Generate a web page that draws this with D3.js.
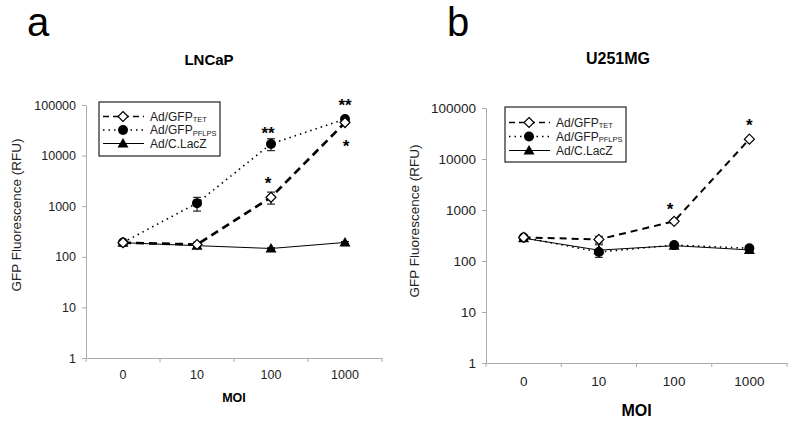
<!DOCTYPE html>
<html><head><meta charset="utf-8">
<script src="https://cdn.jsdelivr.net/npm/d3@7"></script>
<style>body{margin:0;background:#fff}svg{display:block;font-family:"Liberation Sans",Arial,sans-serif}</style>
</head><body>
<svg id="c" width="800" height="423"></svg>
<script>
const categories = ["0", "10", "100", "1000"];
const yTicks = [1, 10, 100, 1000, 10000, 100000];
const seriesNames = ["Ad/GFP", "Ad/GFP", "Ad/C.LacZ"];
const seriesSubs = ["TET", "PFLPS", ""];
// Panel a (LNCaP)
const aTET = [190, 175, 1500, 45000];
const aTETerr = [10, 20, 400, 3000];
const aPFLPS = [192, 1150, 17000, 53000];
const aPFLPSerr = [10, 350, 4500, 3000];
const aLacZ = [190, 166, 146, 192];
const aLacZerr = [8, 15, 5, 8];
// Panel b (U251MG)
const bTET = [290, 265, 600, 24500];
const bTETerr = [15, 40, 40, 1500];
const bPFLPS = [290, 150, 205, 178];
const bPFLPSerr = [15, 10, 10, 8];
const bLacZ = [280, 163, 200, 165];
const bLacZerr = [15, 45, 10, 8];

const svg = d3.select("#c");

function panel(o) {
  const g = svg.append("g");
  const x = d3.scaleBand().domain(categories).range([o.x0, o.x1]);
  const y = d3.scaleLog().domain([1, 100000]).range([o.y1, o.y0]);
  const ya = d3.axisLeft(y).tickValues(yTicks).tickFormat(d3.format("d")).tickSize(4).tickSizeOuter(0);
  const yg = g.append("g").attr("transform", `translate(${o.x0},0)`).call(ya);
  yg.selectAll("text").attr("font-size", o.tickFs).attr("fill", "#222").attr("dx", "-3");
  const xa = d3.axisBottom(x).tickSize(0).tickSizeOuter(0);
  const xg = g.append("g").attr("transform", `translate(0,${o.y1})`).call(xa);
  xg.selectAll("text").attr("font-size", o.tickFs).attr("fill", "#222").attr("dy", o.xlabDy);
  [o.x0, ...categories.map(c => x(c) + x.bandwidth())].forEach(v => {
    g.append("line").attr("x1", v).attr("x2", v).attr("y1", o.y1).attr("y2", o.y1 + 4).attr("stroke", "#aaa");
  });
  g.selectAll(".domain").attr("stroke", "#aaa");
  g.selectAll(".tick line").attr("stroke", "#aaa");
  const cx = c => x(c) + x.bandwidth() / 2;
  const series = [
    {v: o.tet, e: o.tetErr, dash: o.tetDash, w: o.tetW, m: "diamond"},
    {v: o.pf, e: o.pfErr, dash: "1.5,4", w: 1.6, m: "circle"},
    {v: o.lz, e: o.lzErr, dash: null, w: 1, m: "triangle"}
  ];
  const line = d3.line().x((d, i) => cx(categories[i])).y(d => y(d));
  [2, 1, 0].forEach(si => {
    const s = series[si];
    g.append("path").attr("d", line(s.v)).attr("fill", "none").attr("stroke", "#000")
      .attr("stroke-width", s.w).attr("stroke-dasharray", s.dash);
  });
  [2, 1, 0].forEach(si => {
    const s = series[si];
    s.v.forEach((d, i) => {
      const px = cx(categories[i]);
      const hi = y(d + s.e[i]), lo = y(Math.max(1, d - s.e[i]));
      g.append("line").attr("x1", px).attr("x2", px).attr("y1", hi).attr("y2", lo).attr("stroke", "#000").attr("stroke-width", 1);
      [hi, lo].forEach(yy => g.append("line").attr("x1", px - 4).attr("x2", px + 4).attr("y1", yy).attr("y2", yy).attr("stroke", "#000").attr("stroke-width", 1));
      marker(g, s.m, px, y(d));
    });
  });
  svg.append("text").attr("x", o.letterX).attr("y", 36).attr("font-size", 40).text(o.letter);
  svg.append("text").attr("x", o.titleX).attr("y", o.titleY).attr("font-size", o.titleFs).attr("font-weight", "bold").attr("text-anchor", "middle").text(o.title);
  svg.append("text").attr("x", (o.x0 + o.x1) / 2).attr("y", o.moiY).attr("font-size", o.moiFs).attr("font-weight", "bold").attr("text-anchor", "middle").text("MOI");
  svg.append("text").attr("transform", `translate(${o.ylabX},${o.ylabY}) rotate(-90)`).attr("font-size", o.ylabFs).attr("text-anchor", "middle").attr("fill", "#222").text("GFP Fluorescence (RFU)");
  o.stars.forEach(st => {
    g.append("text").attr("x", cx(categories[st[0]]) + (st[3] || 0)).attr("y", st[1]).attr("font-size", 17).attr("font-weight", "bold").attr("text-anchor", "middle").text(st[2]);
  });
  const L = o.leg;
  g.append("rect").attr("x", L.x).attr("y", L.y).attr("width", L.w).attr("height", L.h).attr("fill", "#fff").attr("stroke", "#222").attr("stroke-width", 1.2);
  series.forEach((s, i) => {
    const ly = L.y + L.r0 + i * L.dy;
    g.append("line").attr("x1", L.x + 4).attr("x2", L.x + 45).attr("y1", ly).attr("y2", ly).attr("stroke", "#000")
      .attr("stroke-width", i === 0 ? 1.3 : s.w).attr("stroke-dasharray", i === 0 ? "6,4" : s.dash);
    marker(g, s.m, L.x + 24, ly);
    const t = g.append("text").attr("x", L.x + 51).attr("y", ly + 4).attr("font-size", 12).attr("fill", "#222");
    t.append("tspan").text(seriesNames[i]);
    if (seriesSubs[i]) t.append("tspan").attr("font-size", 7.5).attr("dy", 1.5).text(seriesSubs[i]);
  });
}

function marker(g, m, px, py) {
  if (m === "diamond") {
    g.append("path").attr("d", `M${px},${py - 5}L${px + 5},${py}L${px},${py + 5}L${px - 5},${py}Z`).attr("fill", "#fff").attr("stroke", "#000").attr("stroke-width", 1.2);
  } else if (m === "circle") {
    g.append("circle").attr("cx", px).attr("cy", py).attr("r", 5).attr("fill", "#000");
  } else {
    g.append("path").attr("d", `M${px},${py - 5.5}L${px + 5.5},${py + 4}L${px - 5.5},${py + 4}Z`).attr("fill", "#000");
  }
}

panel({
  x0: 86, x1: 382, y0: 105, y1: 358, tet: aTET, tetErr: aTETerr, pf: aPFLPS, pfErr: aPFLPSerr, lz: aLacZ, lzErr: aLacZerr,
  tetDash: "8,5", tetW: 2.6, tickFs: 12.5, xlabDy: "1.4em", letter: "a", letterX: 27, title: "LNCaP", titleX: 209, titleY: 65, titleFs: 15,
  moiY: 402, moiFs: 12.5, ylabX: 21, ylabY: 215, ylabFs: 13.5,
  stars: [[3, 111, "**"], [3, 152, "*", 1], [2, 139, "**", -3], [2, 189, "*", -3]],
  leg: {x: 99, y: 102, w: 121, h: 54, r0: 14.5, dy: 13.5}
});
panel({
  x0: 486, x1: 787, y0: 108, y1: 363, tet: bTET, tetErr: bTETerr, pf: bPFLPS, pfErr: bPFLPSerr, lz: bLacZ, lzErr: bLacZerr,
  tetDash: "7,5", tetW: 2, tickFs: 13.5, xlabDy: "1.5em", letter: "b", letterX: 447, title: "U251MG", titleX: 618, titleY: 64, titleFs: 16,
  moiY: 416, moiFs: 16, ylabX: 419, ylabY: 221, ylabFs: 13.5,
  stars: [[3, 131, "*"], [2, 215, "*", -4]],
  leg: {x: 505, y: 107, w: 121, h: 55, r0: 15.5, dy: 14}
});
</script>
</body></html>
